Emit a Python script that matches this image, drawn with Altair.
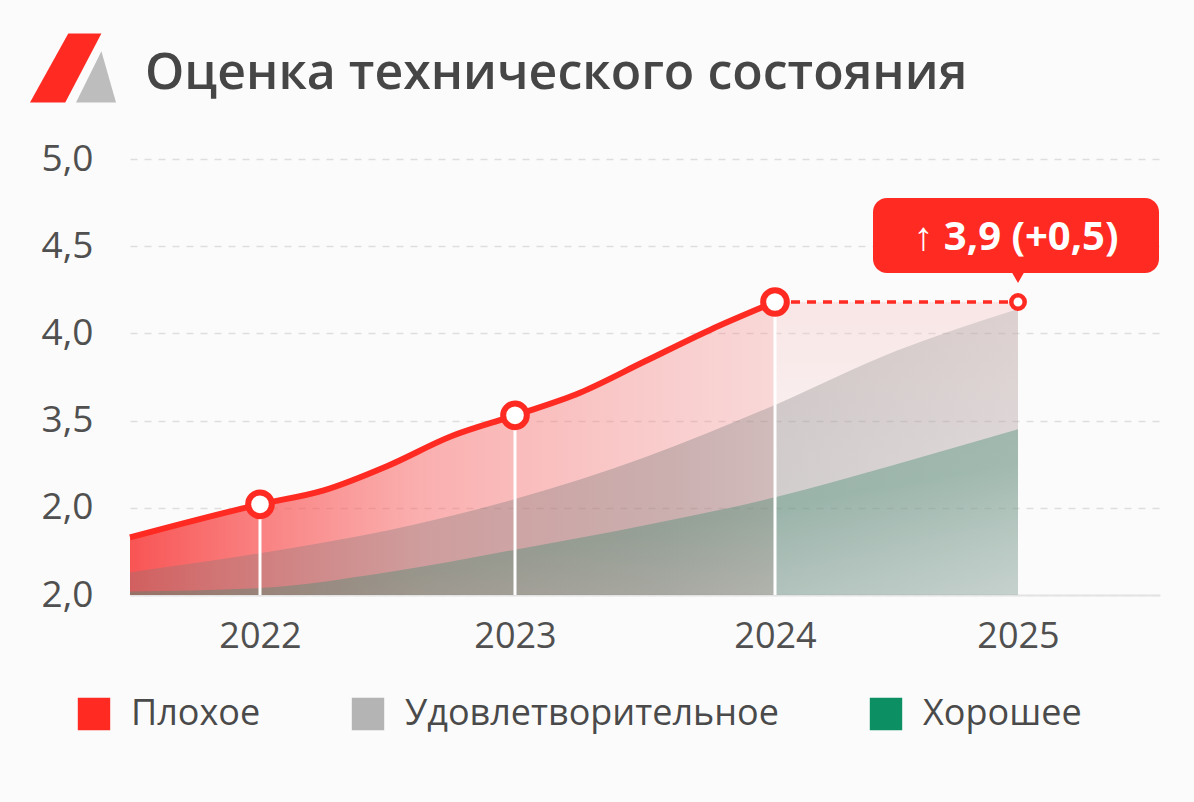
import altair as alt
import pandas as pd

# ---------------- data ----------------
years_line = [2021.5, 2022, 2022.25, 2022.5, 2022.75, 2023, 2023.25, 2023.5, 2023.75, 2024]
bad_values = [2.83, 3.02, 3.10, 3.24, 3.41, 3.53, 3.66, 3.84, 4.02, 4.18]

years_band = [2021.5, 2022, 2022.5, 2023, 2023.5, 2024, 2024.5, 2025]
satisf_values = [2.63, 2.74, 2.87, 3.05, 3.29, 3.59, 3.90, 4.14]
good_values = [2.52, 2.54, 2.63, 2.76, 2.90, 3.06, 3.25, 3.45]

marker_years = [2022, 2023, 2024]
marker_values = [3.02, 3.53, 4.18]

forecast_years = [2024, 2025]
forecast_values = [4.18, 4.18]

categories = ["Плохое", "Удовлетворительное", "Хорошее"]
cat_colors = ["#ff2a22", "#b4b4b4", "#0b8f63"]

y_ticks = [2.5, 3.0, 3.5, 4.0, 4.5, 5.0]
y_labels = ["2,0", "2,0", "3,5", "4,0", "4,5", "5,0"]
x_ticks = [2022, 2023, 2024, 2025]

title_text = "Оценка технического состояния"
annot_text = "↑ 3,9 (+0,5)"

RED = "#ff2a22"
BASE = 2.5

# ---------------- frames ----------------
df_bad = pd.DataFrame({"year": years_line, "v": bad_values})
df_sat = pd.DataFrame({"year": years_band, "v": satisf_values})
df_good = pd.DataFrame({"year": years_band, "v": good_values})
df_mark = pd.DataFrame({"year": marker_years, "v": marker_values})
df_fc = pd.DataFrame({"year": forecast_years, "v": forecast_values})
df_leg = pd.DataFrame({"cat": categories})

xscale = alt.Scale(domain=[2021.5, 2022, 2023, 2024, 2025, 2025.55],
                   range=[0, 130, 385, 645, 888, 1030], nice=False, zero=False)
yscale = alt.Scale(domain=[2.5, 5.0], nice=False, zero=False)

label_expr = "".join(f"datum.value == {v} ? '{l}' : " for v, l in zip(y_ticks, y_labels)) + "''"

FONT = "Open Sans"

x_axis = alt.Axis(values=x_ticks, format="d", labelFontSize=36, labelColor="#505050",
                  labelFont=FONT, labelPadding=24, ticks=False, domain=True,
                  domainColor="#e3e3e3", domainWidth=2, grid=False, title=None)
y_axis = alt.Axis(values=y_ticks, labelExpr=label_expr, labelFontSize=37, labelColor="#505050",
                  labelFont=FONT, labelPadding=37, ticks=False, domain=False, grid=True,
                  gridColor="#dedede", gridDash=[7, 7], gridWidth=1.5, title=None)

X = alt.X("year:Q", scale=xscale, axis=x_axis)
Y = alt.Y("v:Q", scale=yscale, axis=y_axis)

def grad(stops, x2=1, y2=0):
    return alt.LinearGradient(gradient="linear",
                              stops=[alt.GradientStop(color=c, offset=o) for o, c in stops],
                              x1=0, y1=0, x2=x2, y2=y2)

# red area (bad)
bad_area = alt.Chart(df_bad).mark_area(
    interpolate="monotone",
    color=grad([(0, "rgba(248,55,55,0.85)"), (0.45, "rgba(250,105,105,0.52)"), (1, "rgba(245,150,150,0.35)")]),
).encode(x=X, y=Y, y2=alt.datum(BASE))

# light forecast area
fc_area = alt.Chart(df_fc).mark_area(
    color=grad([(0, "rgba(245,190,190,0.35)"), (1, "rgba(245,225,225,0.15)")], x2=0, y2=1),
).encode(x=X, y=Y, y2=alt.datum(BASE))

# grey area (satisfactory)
sat_area = alt.Chart(df_sat).mark_area(
    interpolate="monotone",
    color=grad([(0, "rgba(120,120,120,0.30)"), (0.6, "rgba(120,120,120,0.36)"), (1, "rgba(150,150,150,0.28)")]),
).encode(x=X, y=Y, y2=alt.datum(BASE))

# green area (good)
good_area = alt.Chart(df_good).mark_area(
    interpolate="monotone",
    color=grad([(0, "rgba(60,120,100,0.35)"), (0.6, "rgba(70,140,115,0.40)"), (1, "rgba(110,170,150,0.22)")], x2=1, y2=1),
).encode(x=X, y=Y, y2=alt.datum(BASE))

# white vertical rules
rules = alt.Chart(df_mark).mark_rule(color="white", strokeWidth=3).encode(
    x=X, y=Y, y2=alt.datum(BASE))

# main red line
bad_line = alt.Chart(df_bad).mark_line(interpolate="monotone", color=RED, strokeWidth=6).encode(x=X, y=Y)

# dashed forecast
fc_line = alt.Chart(df_fc).mark_line(color=RED, strokeWidth=3.5, strokeDash=[9, 7]).encode(x=X, y=Y)

# markers
markers = alt.Chart(df_mark).mark_circle(fill="white", stroke=RED, strokeWidth=6, size=560, opacity=1).encode(x=X, y=Y)
fc_marker = alt.Chart(df_fc.tail(1)).mark_circle(fill="white", stroke=RED, strokeWidth=4.5, size=180, opacity=1).encode(x=X, y=Y)

# annotation
ann_box = alt.Chart(df_fc.tail(1)).mark_rect(color=RED, cornerRadius=14).encode(
    x=alt.value(743), x2=alt.value(1029), y=alt.value(39), y2=alt.value(114))
ann_ptr = alt.Chart(df_fc.tail(1)).mark_point(shape="triangle-down", filled=True, color=RED, opacity=1,
                                               size=260, yOffset=-26).encode(x=X, y=Y)
ann_text = alt.Chart(pd.DataFrame({"t": [annot_text]})).mark_text(
    color="white", fontSize=40, fontWeight="bold", font=FONT, align="center", baseline="middle").encode(
    x=alt.value(886), y=alt.value(79), text="t:N")

# title
title = alt.Chart(pd.DataFrame({"t": [title_text]})).mark_text(
    color="#464646", fontSize=50, fontWeight=600, font=FONT, align="left", baseline="alphabetic").encode(
    x=alt.value(15), y=alt.value(-70), text="t:N")

# logo
logo_red = alt.Chart(pd.DataFrame({"k": [1]})).mark_point(
    shape="M-0.11,-0.8L0.66,-0.8L-0.18,0.8L-1,0.8Z", filled=True, color=RED, opacity=1, size=7400).encode(
    x=alt.value(-57), y=alt.value(-91))
logo_grey = alt.Chart(pd.DataFrame({"k": [1]})).mark_point(
    shape="M0.66,-0.39L1,0.8L0.07,0.8Z", filled=True, color="#bdbdbd", opacity=1, size=7400).encode(
    x=alt.value(-57), y=alt.value(-91))

# legend (dummy layer)
legend_layer = alt.Chart(df_leg).mark_point(shape="square", filled=True, opacity=0).encode(
    x=alt.value(0), y=alt.value(0),
    color=alt.Color("cat:N", scale=alt.Scale(domain=categories, range=cat_colors),
                    legend=alt.Legend(orient="none", legendX=-54, legendY=537, direction="horizontal",
                                      title=None, symbolType="square", symbolSize=1050,
                                      symbolOpacity=1, symbolStrokeWidth=0,
                                      labelFontSize=36, labelFont=FONT, labelColor="#4a4a4a",
                                      labelOffset=19, columnPadding=89, labelLimit=600)))

chart = alt.layer(
    bad_area, fc_area, sat_area, good_area, rules, bad_line, fc_line,
    markers, fc_marker, ann_box, ann_ptr, ann_text, title, logo_red, logo_grey, legend_layer
).properties(
    width=1030, height=436,
    background="#fbfbfb",
    padding={"left": 130, "top": 159, "right": 34, "bottom": 207},
    autosize=alt.AutoSizeParams(type="none"),
).configure_view(stroke=None)

chart.save("out.html", embed_options={"renderer": "svg", "actions": False})
